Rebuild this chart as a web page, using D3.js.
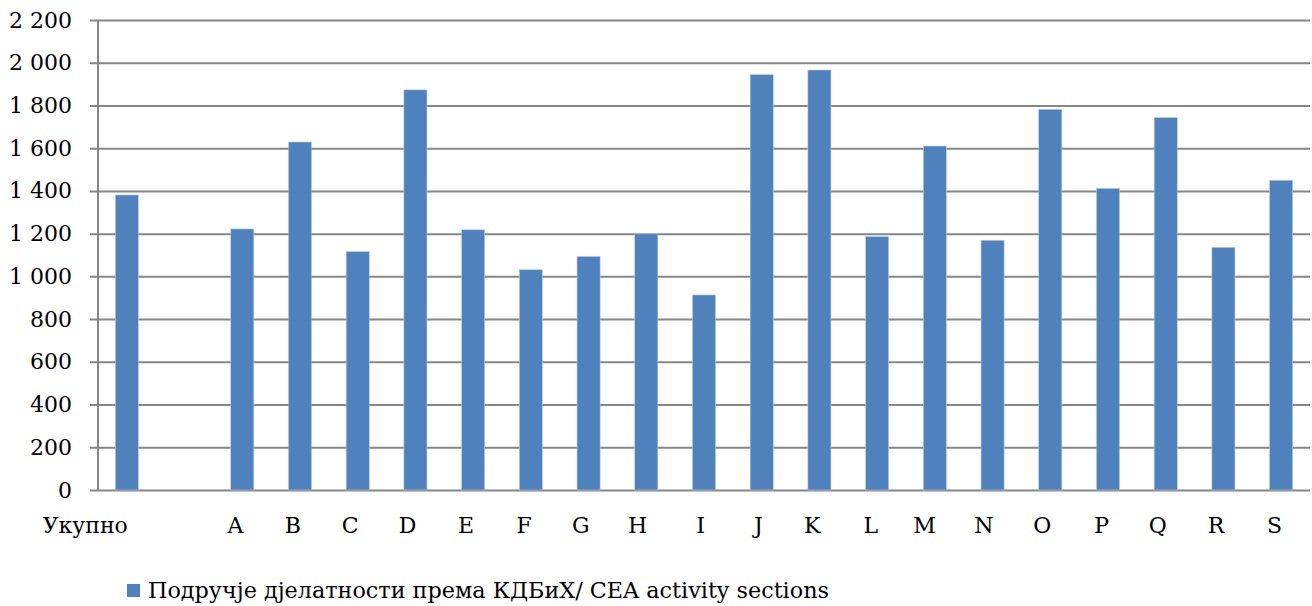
<!DOCTYPE html>
<html>
<head>
<meta charset="utf-8">
<script src="https://cdn.jsdelivr.net/npm/d3@7"></script>
<style>
  body { margin: 0; background: #fff; }
  text { font-family: "DejaVu Serif", serif; fill: #000; }
</style>
</head>
<body>
<svg width="1312" height="606"></svg>
<script>
// data
var categories = ["Укупно", "", "A", "B", "C", "D", "E", "F", "G", "H", "I", "J", "K", "L", "M", "N", "O", "P", "Q", "R", "S"];
var values = [1381, null, 1222, 1629, 1116, 1873, 1218, 1031, 1093, 1199, 913, 1944, 1966, 1186, 1610, 1169, 1782, 1412, 1743, 1136, 1450];
var yTicks = [0, 200, 400, 600, 800, 1000, 1200, 1400, 1600, 1800, 2000, 2200];
var seriesName = "Подручје дјелатности према КДБиХ/ CEA activity sections";

var svg = d3.select("svg");
var plotLeft = 98, plotRight = 1310, plotTop = 20, plotBottom = 490;

var x = d3.scaleBand()
    .domain(categories)
    .range([plotLeft, plotRight])
    .paddingInner(0.6)
    .paddingOuter(0.3);

var y = d3.scaleLinear()
    .domain([0, 2200])
    .range([plotBottom, plotTop]);

var fmt = d3.formatLocale({decimal: ",", thousands: " ", grouping: [3], currency: ["", ""]}).format(",");

// y axis with gridlines, ticks stick out 8px left of the axis line
var yAxis = svg.append("g")
    .attr("transform", "translate(" + (plotLeft - 8) + ",0)")
    .call(d3.axisLeft(y).tickValues(yTicks).tickFormat(fmt).tickSize(-(plotRight - plotLeft + 8)).tickPadding(18));
yAxis.select(".domain").remove();
yAxis.selectAll("line").attr("stroke", "#868686").attr("stroke-width", 2);
yAxis.selectAll("text").attr("font-size", 22).attr("font-family", "DejaVu Serif");

// vertical axis line
svg.append("line")
    .attr("x1", plotLeft).attr("x2", plotLeft)
    .attr("y1", y(2200)).attr("y2", y(0))
    .attr("stroke", "#868686").attr("stroke-width", 2);

// bars
var data = categories.map(function(c, i) { return {cat: c, value: values[i]}; })
    .filter(function(d) { return d.value != null; });

svg.append("g").selectAll("rect")
    .data(data)
    .enter().append("rect")
      .attr("x", function(d) { return x(d.cat); })
      .attr("width", x.bandwidth())
      .attr("y", function(d) { return y(d.value); })
      .attr("height", function(d) { return y(0) - y(d.value); })
      .attr("fill", "#4f81bd")
      .attr("stroke", "#b9cde5")
      .attr("stroke-width", 0.6);

// category labels, right end at bar centre
svg.append("g").selectAll("text")
    .data(categories)
    .enter().append("text")
      .attr("x", function(d) { return x(d) + x.bandwidth() / 2 + 1; })
      .attr("y", 533)
      .attr("text-anchor", "end")
      .attr("font-size", 22)
      .text(function(d) { return d; });

// legend
var legend = svg.append("g").attr("transform", "translate(127,584)");
legend.append("rect")
    .attr("width", 13).attr("height", 13)
    .attr("fill", "#4f81bd");
legend.append("text")
    .attr("x", 21).attr("y", 14)
    .attr("font-size", 22.3)
    .text(seriesName);
</script>
</body>
</html>
